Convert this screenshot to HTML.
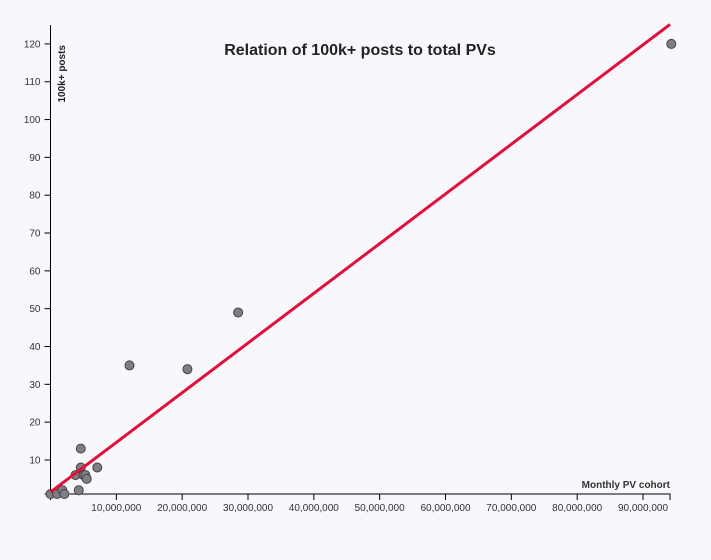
<!DOCTYPE html>
<html><head><meta charset="utf-8"><style>
body{margin:0;background:#f8f8fc;}
svg{display:block;font-family:"Liberation Sans",Arial,sans-serif;}
</style></head><body>
<svg width="711" height="560" id="chart">
<rect width="711" height="560" fill="#f8f8fc"/>
<text x="360" y="55" text-anchor="middle" font-size="16" font-weight="bold" fill="#222">Relation of 100k+ posts to total PVs</text>
<g id="xaxis"></g>
<g id="yaxis"></g>
<text x="670" y="488" text-anchor="end" font-size="10" font-weight="bold" fill="#333">Monthly PV cohort</text>
<text transform="translate(65,45) rotate(-90)" text-anchor="end" font-size="10" font-weight="bold" fill="#222">100k+ posts</text>
<g id="marks"></g>
</svg>
<script>
const xValues=[0,1000000,1800000,2100000,3800000,4600000,4600000,4300000,5000000,5300000,5500000,7100000,12000000,20800000,28500000,94300000];
const yValues=[1,1,2,1,6,13,8,2,6,6,5,8,35,34,49,120];
const xTicks=[10000000,20000000,30000000,40000000,50000000,60000000,70000000,80000000,90000000];
const yTicks=[10,20,30,40,50,60,70,80,90,100,110,120];
const fitIntercept=1.5, fitSlope=1.314e-6;
const NS="http://www.w3.org/2000/svg";
const X0=50.5,X1=670,XMAX=94100000,Y0=494,Y1=25,YMIN=1,YMAX=125;
const sx=v=>X0+(v/XMAX)*(X1-X0);
const sy=v=>Y0-(v-YMIN)/(YMAX-YMIN)*(Y0-Y1);
function mk(t,a,p){const e=document.createElementNS(NS,t);for(const k in a)e.setAttribute(k,a[k]);p.appendChild(e);return e;}
const xa=document.getElementById('xaxis'),ya=document.getElementById('yaxis'),m=document.getElementById('marks');
mk('path',{d:`M${X0},${Y0+6}V${Y0}H${X1}V${Y0+6}`,stroke:'#000',fill:'none'},xa);
mk('path',{d:`M${X0-6},${Y0}H${X0}V${Y1}`,stroke:'#000',fill:'none'},ya);
xTicks.forEach(t=>{const x=sx(t);
const l=mk('line',{x1:x,x2:x,y1:Y0,y2:Y0+6,stroke:'#000'},xa);


const tx=mk('text',{x:x,y:Y0+17,'text-anchor':'middle','font-size':10,fill:'#333'},xa);
tx.textContent=t.toLocaleString('en-US');

});
yTicks.forEach(t=>{const y=sy(t);
const l=mk('line',{x1:X0-6,x2:X0,y1:y,y2:y,stroke:'#000'},ya);


const tx=mk('text',{x:X0-10,y:y+3.5,'text-anchor':'end','font-size':10,fill:'#333'},ya);
tx.textContent=t;

});
xValues.forEach((v,i)=>{
const c=mk('circle',{cx:sx(v),cy:sy(yValues[i]),r:4.5,fill:'#7d7f83',stroke:'#444','stroke-width':1},m);

});
const xe=XMAX;
const ln=mk('line',{x1:sx(0),y1:sy(fitIntercept),x2:sx(xe),y2:sy(fitIntercept+fitSlope*xe),stroke:'#e0103a','stroke-width':3},m);


</script>
</body></html>
